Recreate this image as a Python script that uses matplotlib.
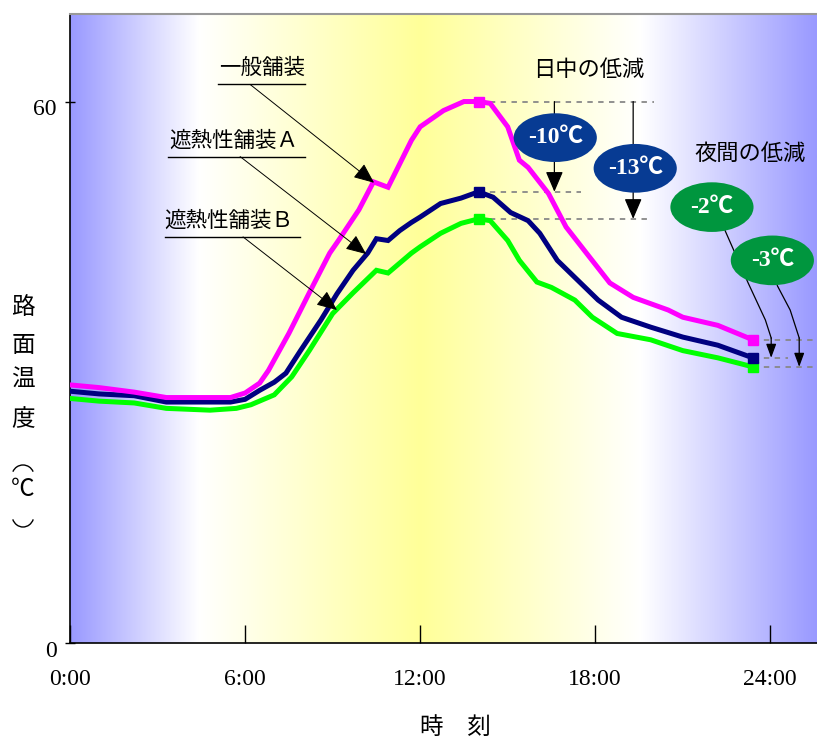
import numpy as np
import matplotlib
matplotlib.use("Agg")
import matplotlib.pyplot as plt
import matplotlib.transforms as mtransforms
from matplotlib.patches import Ellipse, Arc

plt.rcParams["font.family"] = ["Noto Sans CJK JP", "DejaVu Sans"]

# road surface temperature over one day (hour, deg C)
hours_normal = [0.0, 1.0, 2.2, 3.3, 4.5, 5.5, 6.0, 6.5, 6.8, 7.5, 8.2, 8.9, 9.2, 9.9, 10.4,
                10.9, 11.7, 12.0, 12.8, 13.5, 14.0, 14.4, 15.0, 15.4, 15.7, 16.4, 17.0,
                17.7, 18.5, 19.3, 20.5, 21.0, 22.2, 23.4]
temp_normal = [28.6, 28.3, 27.8, 27.2, 27.2, 27.2, 27.7, 28.8, 30.2, 34.3, 38.8, 43.2, 44.6,
               48.0, 51.1, 50.5, 55.7, 57.2, 59.0, 60.0, 60.0, 59.8, 57.2, 53.5, 52.7, 49.8,
               46.1, 43.2, 39.9, 38.3, 36.9, 36.1, 35.2, 33.6]

hours_a = [0.0, 1.0, 2.2, 3.3, 4.5, 5.5, 6.0, 6.5, 7.0, 7.4, 7.9, 8.6, 9.15, 9.7, 10.2, 10.5,
           10.9, 11.3, 11.7, 12.0, 12.7, 13.4, 14.0, 14.5, 15.1, 15.7, 16.1, 16.7, 17.4,
           18.1, 18.9, 19.9, 21.0, 22.2, 23.4]
temp_a = [27.9, 27.6, 27.4, 26.7, 26.7, 26.7, 27.0, 28.0, 28.9, 29.9, 32.4, 35.8, 38.7, 41.3,
          43.2, 44.8, 44.6, 45.7, 46.6, 47.2, 48.7, 49.3, 50.0, 49.4, 47.7, 46.8, 45.4, 42.4,
          40.2, 38.0, 36.1, 35.0, 33.9, 33.0, 31.6]

hours_b = [0.0, 1.0, 2.2, 3.3, 4.8, 5.7, 6.2, 7.0, 7.3, 7.6, 8.2, 9.0, 9.7, 10.5, 10.9, 11.3,
           11.7, 12.0, 12.7, 13.4, 14.0, 14.4, 15.0, 15.4, 16.0, 16.5, 17.3, 17.9, 18.75,
           19.9, 21.0, 22.2, 23.4]
temp_b = [27.1, 26.8, 26.6, 26.0, 25.8, 26.0, 26.4, 27.5, 28.5, 29.5, 32.4, 36.5, 38.8, 41.3,
          41.0, 42.1, 43.2, 43.9, 45.4, 46.5, 47.0, 46.8, 44.6, 42.4, 40.0, 39.4, 38.0, 36.1,
          34.3, 33.6, 32.4, 31.6, 30.6]

tick_hours = [0, 6, 12, 18, 24]
tick_labels = ["0:00", "6:00", "12:00", "18:00", "24:00"]
peak_hour = 14.0
end_hour = 23.4

C_NORMAL, C_A, C_B = "#ff00ff", "#000080", "#00ff00"
SERIF = ["Liberation Serif", "Noto Sans CJK JP"]
XMAX, YMAX = 25.6, 69.7
W, H = 817, 745

fig = plt.figure(figsize=(W / 100, H / 100), dpi=100)
ax = fig.add_axes([70 / W, 1 - 643 / H, 1 - 70 / W, 629 / H])
ax.set_xlim(0, XMAX)
ax.set_ylim(0, YMAX)

# night-day-night background
stop_h = [0.0, 4.4, 12.0, 19.6, XMAX]
stop_rgb = np.array([[153, 153, 255], [255, 255, 255], [255, 255, 153],
                     [255, 255, 255], [153, 153, 255]]) / 255
xs = np.linspace(0, XMAX, 600)
grad = np.stack([np.interp(xs, stop_h, stop_rgb[:, i]) for i in range(3)], axis=-1)
ax.imshow(grad[np.newaxis], extent=[0, XMAX, 0, YMAX], aspect="auto", zorder=0)

series = [(hours_b, temp_b, C_B), (hours_a, temp_a, C_A), (hours_normal, temp_normal, C_NORMAL)]
for h, t, c in series:
    marks = [h.index(peak_hour), h.index(end_hour)]
    ax.plot(h, t, color=c, lw=3.6, marker="s", ms=7.5, markevery=marks, zorder=3,
            solid_joinstyle="miter")

peak_n, peak_a, peak_b = max(temp_normal), max(temp_a), max(temp_b)
end_n, end_a, end_b = temp_normal[-1], temp_a[-1], temp_b[-1]

dash = dict(color="#888888", lw=1.3, ls=(0, (3, 3)), zorder=2)
ax.plot([peak_hour, 20.0], [peak_n, peak_n], **dash)
ax.plot([peak_hour, 17.5], [peak_a, peak_a], **dash)
ax.plot([peak_hour, 19.8], [peak_b, peak_b], **dash)
ax.plot([end_hour, XMAX], [end_n, end_n], **dash)
ax.plot([end_hour, 24.6], [end_a, end_a], **dash)
ax.plot([end_hour, XMAX], [end_b, end_b], **dash)

head = "-|>,head_length=0.7,head_width=0.3"
small_head = "-|>,head_length=0.6,head_width=0.22"


def arrow(x0, y0, x1, y1, style=head, ms=18, lw=0.9):
    ax.annotate("", xy=(x1, y1), xytext=(x0, y0), zorder=4,
                arrowprops=dict(arrowstyle=style, color="black", lw=lw,
                                mutation_scale=ms, shrinkA=0, shrinkB=0))


# daytime reduction
arrow(16.6, peak_n, 16.6, peak_a)
arrow(19.3, peak_n, 19.3, peak_b)


def badge(x, y, w, h, label, color):
    ax.add_patch(Ellipse((x, y), w, h, facecolor=color, edgecolor="none", zorder=5))
    ax.text(x, y, label, color="white", ha="center", va="center", fontsize=17,
            fontweight="bold", family=SERIF, zorder=6)


badge(16.63, 56.0, 2.85, 5.4, f"{peak_a - peak_n:.0f}℃", "#073b93")
badge(19.37, 52.6, 2.85, 5.4, f"{peak_b - peak_n:.0f}℃", "#073b93")

ax.text(17.76, 63.5, "日中の低減", ha="center", va="center", fontsize=16, zorder=6)
ax.text(23.3, 54.3, "夜間の低減", ha="center", va="center", fontsize=16, zorder=6)

# nighttime reduction
ax.plot([22.45, 23.24, 23.83, 24.03], [45.7, 39.9, 35.8, end_n + 0.2], color="black", lw=0.9, zorder=4)
arrow(24.03, end_n + 0.2, 24.03, end_a, style=small_head, ms=14)
ax.plot([24.24, 24.68, 24.99], [39.6, 36.9, end_n + 0.2], color="black", lw=0.9, zorder=4)
arrow(24.99, end_n + 0.2, 24.99, end_b, style=small_head, ms=14)

badge(22.0, 48.3, 2.85, 5.5, f"{end_a - end_n:.0f}℃", "#00963e")
badge(24.07, 42.4, 2.85, 5.5, f"{end_b - end_n:.0f}℃", "#00963e")

# series labels with leader arrows
labels = [("一般舗装", 6.57, 63.7, 61.9, 5.07, 8.06, (6.17, 61.9), (10.42, 51.0)),
          ("遮熱性舗装Ａ", 5.62, 55.6, 53.9, 3.36, 8.06, (5.83, 53.9), (10.15, 43.1)),
          ("遮熱性舗装Ｂ", 5.45, 46.8, 45.0, 3.26, 7.88, (5.93, 45.0), (9.15, 36.9))]
for text, tx, ty, uy, ux0, ux1, start, tip in labels:
    ax.text(tx, ty, text, ha="center", va="center", fontsize=15.5, zorder=6)
    ax.plot([ux0, ux1], [uy, uy], color="black", lw=1.0, zorder=6)
    arrow(*start, *tip, lw=0.7)

# axes styling
ax.set_xticks(tick_hours)
ax.set_xticklabels(tick_labels, family=SERIF, fontsize=17)
ax.tick_params(axis="x", direction="in", length=13, width=1, pad=19, color="black")
ax.set_yticks([0, 60])
ax.set_yticklabels(["0", "60"], family=SERIF, fontsize=17)
ax.tick_params(axis="y", direction="inout", length=7, width=1, pad=6)
shift_down = mtransforms.ScaledTranslation(0, -4 / 72, fig.dpi_scale_trans)
for lbl in ax.get_yticklabels():
    lbl.set_transform(lbl.get_transform() + shift_down)
for side in ("left", "bottom"):
    ax.spines[side].set_color("black")
    ax.spines[side].set_linewidth(1.2)
ax.spines["top"].set_color("#999999")
ax.spines["top"].set_linewidth(1.5)
ax.spines["right"].set_visible(False)

# vertical y-axis title, with vertical-style brackets drawn as arcs
for ch, py in zip("路面温度℃", [307, 345, 380, 420, 489]):
    fig.text(23 / W, 1 - py / H, ch, ha="center", va="center", fontsize=17)
fig.add_artist(Arc((23 / W, 1 - 476 / H), 22 / W, 22 / H, theta1=25, theta2=155,
                   transform=fig.transFigure, color="black", lw=1.0))
fig.add_artist(Arc((23 / W, 1 - 515 / H), 22 / W, 24 / H, theta1=205, theta2=335,
                   transform=fig.transFigure, color="black", lw=1.0))
fig.text(455 / W, 1 - 727 / H, "時　刻", ha="center", va="center", fontsize=17)

fig.savefig("out.png", dpi=100)
